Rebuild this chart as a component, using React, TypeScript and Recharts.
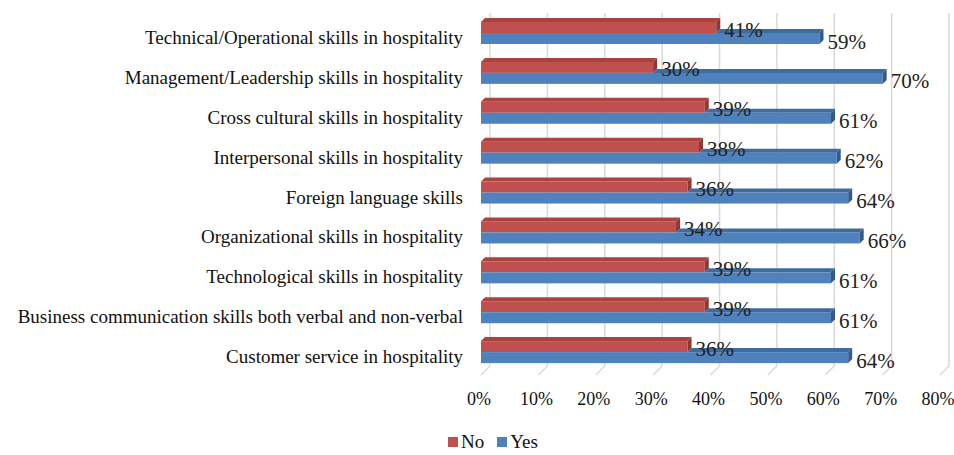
import React from "react";
import { BarChart, Bar, XAxis, YAxis, CartesianGrid, Legend, LabelList } from "recharts";

const categories = [
  "Technical/Operational skills in hospitality",
  "Management/Leadership skills in hospitality",
  "Cross cultural skills in hospitality",
  "Interpersonal skills in hospitality",
  "Foreign language skills",
  "Organizational skills in hospitality",
  "Technological skills in hospitality",
  "Business communication skills both verbal and non-verbal",
  "Customer service in hospitality",
];
const noValues = [41, 30, 39, 38, 36, 34, 39, 39, 36];
const yesValues = [59, 70, 61, 62, 64, 66, 61, 61, 64];
const xTicks = [0, 10, 20, 30, 40, 50, 60, 70, 80];

const data = categories.map((name, i) => ({ name, No: noValues[i], Yes: yesValues[i] }));

const FONT = '"Liberation Serif", "Times New Roman", serif';
const RED = "#C0504D";
const RED_TOP = "#A9433F";
const RED_SIDE = "#8C3836";
const BLUE = "#4F81BD";
const BLUE_TOP = "#3F6C9F";
const BLUE_SIDE = "#345A86";
const GRID = "#D9D9D9";
const D = 4;

const makeShape = (front: string, top: string, side: string, isYes: boolean) => (props: any) => {
  const { x, y, width, height, payload } = props;
  if (width == null || width <= 0) return null;
  const topStart = isYes ? x + (width * payload.No) / payload.Yes : x;
  return (
    <g>
      <rect x={x} y={y} width={width} height={height} fill={front} />
      {topStart < x + width && (
        <polygon
          points={`${topStart},${y} ${topStart + D},${y - D} ${x + width + D},${y - D} ${x + width},${y}`}
          fill={top}
        />
      )}
      <polygon
        points={`${x + width},${y} ${x + width + D},${y - D} ${x + width + D},${y + height - D} ${x + width},${y + height}`}
        fill={side}
      />
    </g>
  );
};

const makeLabel = (dyOffset: number) => (props: any) => {
  const { x, y, width, height, value } = props;
  return (
    <text
      x={x + width + 8}
      y={y + height / 2 + dyOffset + 7}
      fontSize={21}
      fontFamily={FONT}
      fill="#222"
      textAnchor="start"
    >
      {value}%
    </text>
  );
};

const YTick = (props: any) => {
  const { x, y, payload } = props;
  return (
    <text x={x} y={y + 11} textAnchor="end" fontSize={19} fontFamily={FONT} fill="#111">
      {payload.value}
    </text>
  );
};

const XTick = (props: any) => {
  const { x, y, payload } = props;
  return (
    <g>
      <line x1={x} y1={y + 3} x2={x + 9} y2={y - 6} stroke={GRID} strokeWidth={1.5} />
      <text x={x - 2} y={y + 33} textAnchor="middle" fontSize={18} fontFamily={FONT} fill="#111">
        {payload.value}%
      </text>
    </g>
  );
};

const gridLine = (p: any) => (
  <line
    key={p.key ?? `g-${p.index}`}
    x1={p.x1 + 9}
    y1={p.y1}
    x2={p.x2 + 9}
    y2={p.y2 - 6}
    stroke={GRID}
    strokeWidth={1.5}
  />
);

const LegendContent = () => (
  <div style={{ display: "flex", alignItems: "center", fontFamily: FONT, fontSize: 19, color: "#111", height: 38, paddingTop: 12, boxSizing: "border-box" }}>
    <span style={{ width: 10, height: 10, background: RED, display: "inline-block", marginRight: 3 }} />
    <span style={{ marginRight: 13 }}>No</span>
    <span style={{ width: 10, height: 10, background: BLUE, display: "inline-block", marginRight: 3 }} />
    <span>Yes</span>
  </div>
);

export default function App() {
  return (
    <div style={{ position: "absolute", left: 0, top: 0, background: "#fff" }}>
      <BarChart
        width={954}
        height={455}
        data={data}
        layout="vertical"
        margin={{ top: 13, right: 14, left: 0, bottom: 0 }}
        barGap={0}
        barSize={11}
      >
        <CartesianGrid horizontal={false} vertical={gridLine} />
        <XAxis
          type="number"
          domain={[0, 80]}
          ticks={xTicks}
          axisLine={false}
          tickLine={false}
          tickSize={0}
          tickMargin={0}
          height={45}
          tick={<XTick />}
          interval={0}
        />
        <YAxis
          type="category"
          dataKey="name"
          width={481}
          axisLine={false}
          tickLine={false}
          tickSize={0}
          tickMargin={18}
          tick={<YTick />}
          interval={0}
        />
        <Legend
          verticalAlign="bottom"
          content={<LegendContent />}
          wrapperStyle={{ left: 448, width: 120, bottom: 0, height: 38 }}
        />
        <Bar dataKey="No" isAnimationActive={false} shape={makeShape(RED, RED_TOP, RED_SIDE, false)}>
          <LabelList dataKey="No" content={makeLabel(2)} />
        </Bar>
        <Bar dataKey="Yes" isAnimationActive={false} shape={makeShape(BLUE, BLUE_TOP, BLUE_SIDE, true)}>
          <LabelList dataKey="Yes" content={makeLabel(3)} />
        </Bar>
      </BarChart>
    </div>
  );
}
